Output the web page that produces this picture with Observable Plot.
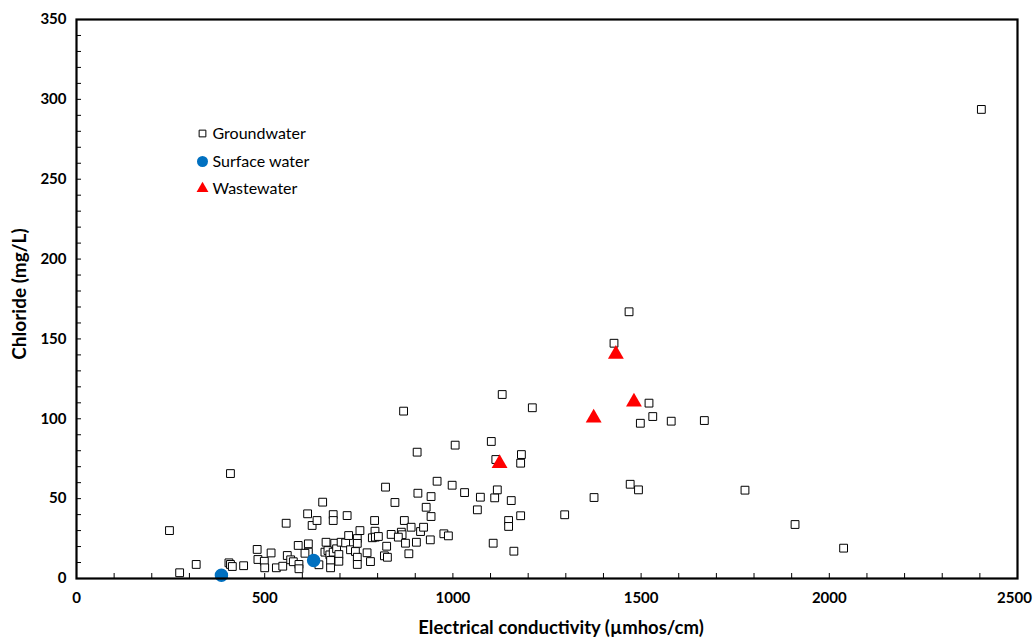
<!DOCTYPE html>
<html>
<head>
<meta charset="utf-8">
<script src="https://cdn.jsdelivr.net/npm/d3@7"></script>
<script src="https://cdn.jsdelivr.net/npm/@observablehq/plot@0.6"></script>
<style>
  body { margin: 0; background: white; }
</style>
</head>
<body>
<div id="chart"></div>
<script>
// Groundwater samples: electrical conductivity (µmhos/cm) and chloride (mg/L)
const groundEC = [247,274,318,405,409,414,409,444,480,482,499,500,517,531,548,560,557,569,576,589,591,591,614,626,639,654,682,682,719,616,616,607,644,660,663,668,673,675,675,682,686,691,697,697,703,715,723,728,741,746,746,746,746,753,792,793,786,794,802,772,781,824,818,826,836,846,863,865,855,871,874,883,889,903,914,922,929,942,942,940,907,976,988,1031,1065,1073,821,958,998,1111,1118,1155,1148,1148,1180,1107,1162,869,1211,905,1006,1102,1114,1182,1180,1131,1521,1531,1498,1580,1668,1471,1493,1776,1375,1297,1468,1428,1909,2038,2404];
const groundCl = [30,3.6,8.8,9.8,8.8,7.5,65.7,8,18.2,11.9,10.8,6.7,16,6.7,7.7,14.4,34.6,11.7,10.5,20.7,8.8,6.1,40.5,33.2,36.3,47.8,40,36.3,39.4,21.7,16.5,15.8,8.6,16.5,22.7,17.5,14.8,11.3,6.7,16.5,22.1,18.6,15,10.8,22.7,22.3,26.9,18,16.9,25,22,13.3,8.8,30,36.3,29.6,25.5,25.9,26.3,16.1,10.6,20.2,14.2,13.3,27.6,47.6,29,27.4,25.9,36.3,22.1,15.5,32.1,22.7,29.4,32.1,44.6,51.3,38.8,24.2,53.4,28,26.7,53.8,43,50.9,57.2,60.9,58.4,50.5,55.5,48.8,36.3,32.6,39.3,22.1,17.1,104.8,106.9,79.1,83.5,85.8,74.5,77.6,72.2,115.2,109.8,101.4,97.2,98.5,98.9,59,55.5,55.3,50.7,39.9,167,147.3,33.8,19,293.7];
// Surface water samples
const surfaceEC = [385, 630];
const surfaceCl = [2, 11.3];
// Wastewater samples
const wasteEC = [1124, 1374, 1433, 1481];
const wasteCl = [72, 100.5, 140.5, 110.5];

const xTicks = [0, 500, 1000, 1500, 2000];
const xLastTick = [2500];
const yTicks = [0, 50, 100, 150, 200, 250, 300, 350];
const xMinor = d3.range(100, 2500, 100);
const yMinor = d3.range(10, 350, 10);

const seriesNames = ["Groundwater", "Surface water", "Wastewater"];
const xTitle = "Electrical conductivity (µmhos/cm)";
const yTitle = "Chloride (mg/L)";

const ground = groundEC.map((x, i) => ({x, y: groundCl[i]}));
const surface = surfaceEC.map((x, i) => ({x, y: surfaceCl[i]}));
const waste = wasteEC.map((x, i) => ({x, y: wasteCl[i]}));

const W = 1033, H = 639;
const mL = 76, mT = 19, mR = 16, mB = 61;
const fw = W - mL - mR, fh = H - mT - mB;

const blue = "#0070C0", red = "#FF0000";

const chart = Plot.plot({
  width: W,
  height: H,
  marginLeft: mL,
  marginTop: mT,
  marginRight: mR,
  marginBottom: mB,
  style: {fontFamily: "Lato, 'Open Sans', sans-serif", fontWeight: "bold", fontSize: "14px", color: "#000", background: "white"},
  x: {domain: [0, 2500]},
  y: {domain: [0, 350]},
  marks: [
    Plot.axisX({ticks: xTicks, tickSize: 0, tickPadding: 14, label: null, tickFormat: d => String(d), fontSize: 15}),
    Plot.axisX({ticks: xLastTick, tickSize: 0, tickPadding: 14, label: null, tickFormat: d => String(d), fontSize: 15, dx: -3}),
    Plot.axisY({ticks: yTicks, tickSize: 0, tickPadding: 10, label: null, tickFormat: d => String(d), fontSize: 15}),
    Plot.ruleX(xMinor, {x: d => d, insetTop: fh - 5, stroke: "#000", strokeWidth: 1}),
    Plot.ruleY(yMinor, {y: d => d, insetRight: fw - 5, stroke: "#000", strokeWidth: 1}),
    Plot.dot(ground, {x: "x", y: "y", symbol: "square", r: 4.4, stroke: "#000", strokeWidth: 1, fill: "white"}),
    Plot.dot(surface, {x: "x", y: "y", symbol: "circle", r: 6, fill: blue, stroke: blue}),
    Plot.dot(waste, {x: "x", y: "y", symbol: "triangle", r: 5.9, fill: red, stroke: "none"}),
    Plot.frame({stroke: "#000", strokeWidth: 2.2}),
    // legend
    Plot.dot([0], {frameAnchor: "top-left", dx: 126, dy: 114, symbol: "square", r: 3.8, stroke: "#000", strokeWidth: 1, fill: "white"}),
    Plot.dot([0], {frameAnchor: "top-left", dx: 126, dy: 142, symbol: "circle", r: 5.5, fill: blue}),
    Plot.dot([0], {frameAnchor: "top-left", dx: 126, dy: 169, symbol: "triangle", r: 4.4, fill: red}),
    Plot.text([seriesNames[0]], {text: d => d, frameAnchor: "top-left", dx: 136, dy: 114, textAnchor: "start", lineAnchor: "middle", fontSize: 16, fontWeight: "normal"}),
    Plot.text([seriesNames[1]], {text: d => d, frameAnchor: "top-left", dx: 136, dy: 142, textAnchor: "start", lineAnchor: "middle", fontSize: 16, fontWeight: "normal"}),
    Plot.text([seriesNames[2]], {text: d => d, frameAnchor: "top-left", dx: 136, dy: 169, textAnchor: "start", lineAnchor: "middle", fontSize: 16, fontWeight: "normal"}),
    // axis titles
    Plot.text([xTitle], {text: d => d, frameAnchor: "bottom", dx: 14, dy: 50, textAnchor: "middle", lineAnchor: "middle", fontSize: 18.5, fontWeight: "bold"}),
    Plot.text([yTitle], {text: d => d, frameAnchor: "left", dx: -57, dy: -5, rotate: -90, textAnchor: "middle", lineAnchor: "middle", fontSize: 19, fontWeight: "bold"})
  ]
});
document.getElementById("chart").appendChild(chart);
</script>
</body>
</html>
